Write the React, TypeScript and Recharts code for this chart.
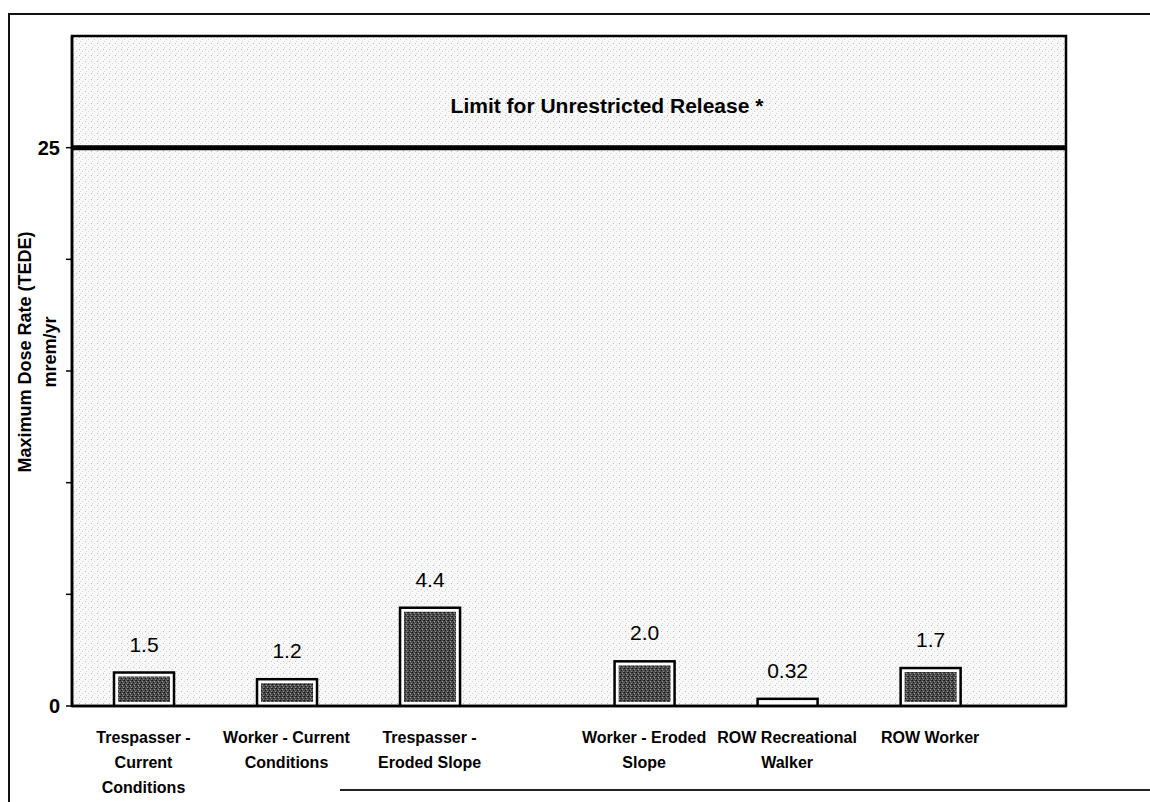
import React from "react";
import {
  BarChart,
  Bar,
  XAxis,
  YAxis,
  CartesianGrid,
  ReferenceLine,
  ReferenceArea,
  LabelList,
  Label,
} from "recharts";

const categories = [
  ["Trespasser -", "Current", "Conditions"],
  ["Worker - Current", "Conditions"],
  ["Trespasser -", "Eroded Slope"],
  ["Worker - Eroded", "Slope"],
  ["ROW Recreational", "Walker"],
  ["ROW Worker"],
];
const slots = [0.5, 1.5, 2.5, 4, 5, 6];
const doseValues = [1.5, 1.2, 4.4, 2.0, 0.32, 1.7];
const valueLabels = ["1.5", "1.2", "4.4", "2.0", "0.32", "1.7"];
const yTicks = [0, 5, 10, 15, 20, 25];
const yTickLabels: Record<number, string> = { 0: "0", 25: "25" };
const limitValue = 25;
const limitText = "Limit for Unrestricted Release *";

const data = slots.map((s, i) => ({
  slot: s,
  dose: doseValues[i],
  label: valueLabels[i],
}));

const FONT = "'Liberation Sans', Arial, sans-serif";

const CategoryTick = (props: any) => {
  const { x, y, payload } = props;
  const idx = slots.indexOf(payload.value);
  const lines = idx >= 0 ? categories[idx] : [];
  return (
    <text
      x={x}
      y={y}
      textAnchor="middle"
      fontFamily={FONT}
      fontWeight="bold"
      fontSize={16}
      fill="#000"
    >
      {lines.map((l, i) => (
        <tspan key={i} x={x} dy={i === 0 ? 29 : 25}>
          {l}
        </tspan>
      ))}
    </text>
  );
};

const BarShape = (props: any) => {
  const { x, y, width, height } = props;
  if (height == null || width == null) return null;
  const inset = 4;
  return (
    <g>
      <rect x={x} y={y} width={width} height={height} fill="#fff" stroke="#000" strokeWidth={2.5} />
      {height > inset * 2 && (
        <rect
          x={x + inset}
          y={y + inset}
          width={width - inset * 2}
          height={height - inset * 2}
          fill="url(#barStipple)"
        />
      )}
    </g>
  );
};

const LimitLabel = (props: any) => {
  const vb = props.viewBox || {};
  const cx = (vb.x || 0) + (vb.width || 0) / 2 + 38;
  const cy = (vb.y || 0) - 35;
  return (
    <text x={cx} y={cy} textAnchor="middle" fontFamily={FONT} fontWeight="bold" fontSize={21} fill="#000">
      {limitText}
    </text>
  );
};

const YTitle = (props: any) => {
  const vb = props.viewBox || {};
  const cy = (vb.y || 0) + (vb.height || 0) / 2 - 19;
  const x1 = 25;
  const x2 = 50;
  return (
    <g fontFamily={FONT} fontWeight="bold" fontSize={18} fill="#000">
      <text x={x1} y={cy} textAnchor="middle" dy="0.35em" transform={`rotate(-90 ${x1} ${cy})`}>
        Maximum Dose Rate (TEDE)
      </text>
      <text x={x2} y={cy} textAnchor="middle" dy="0.35em" transform={`rotate(-90 ${x2} ${cy})`}>
        mrem/yr
      </text>
    </g>
  );
};

export default function App() {
  return (
    <div style={{ position: "absolute", left: 0, top: 0, width: 1150, height: 802, background: "#fff", overflow: "hidden" }}>
      <div style={{ position: "absolute", left: 8, top: 13, width: 2, height: 789, background: "#111" }} />
      <div style={{ position: "absolute", left: 8, top: 13, width: 1142, height: 2, background: "#111" }} />
      <div style={{ position: "absolute", left: 340, top: 789, width: 810, height: 2, background: "#222" }} />
      <div style={{ position: "absolute", left: 0, top: 0 }}>
        <BarChart
          width={1150}
          height={802}
          data={data}
          margin={{ top: 36, right: 84, bottom: 6, left: 12 }}
        >
          <defs>
            <pattern id="barStipple" width="4" height="4" patternUnits="userSpaceOnUse">
              <rect width="4" height="4" fill="#4d4d4d" />
              <rect x="0" y="0" width="1" height="1" fill="#151515" />
              <rect x="2" y="1" width="1" height="1" fill="#9a9a9a" />
              <rect x="1" y="2" width="1" height="1" fill="#1e1e1e" />
              <rect x="3" y="3" width="1" height="1" fill="#888" />
              <rect x="3" y="0" width="1" height="1" fill="#2a2a2a" />
            </pattern>
            <pattern id="bgSpeckle" width="6" height="6" patternUnits="userSpaceOnUse">
              <rect width="6" height="6" fill="#f8f8f8" />
              <rect x="1" y="1" width="1" height="1" fill="#bdbdbd" />
              <rect x="4" y="3" width="1" height="1" fill="#d4d4d4" />
              <rect x="2" y="5" width="1" height="1" fill="#d8d8d8" />
            </pattern>
          </defs>
          <CartesianGrid horizontal={false} vertical={false} fill="url(#bgSpeckle)" />
          <XAxis
            type="number"
            dataKey="slot"
            domain={[0, 6.95]}
            ticks={slots}
            interval={0}
            tickLine={false}
            axisLine={{ stroke: "#000", strokeWidth: 2.5 }}
            tick={<CategoryTick />}
            height={90}
            allowDataOverflow
          />
          <YAxis
            type="number"
            domain={[0, 30]}
            ticks={yTicks}
            interval={0}
            width={60}
            tickSize={6}
            tickMargin={6}
            tickLine={{ stroke: "#000", strokeWidth: 1.5 }}
            axisLine={{ stroke: "#000", strokeWidth: 2.5 }}
            tickFormatter={(v: number) => yTickLabels[v] ?? ""}
            tick={{ fill: "#000", fontFamily: FONT, fontWeight: "bold", fontSize: 20 }}
            allowDataOverflow
          >
            <Label content={<YTitle />} />
          </YAxis>
          <ReferenceArea
            x1={0}
            x2={6.95}
            y1={0}
            y2={30}
            fill="none"
            fillOpacity={0}
            stroke="#000"
            strokeWidth={2.5}
            ifOverflow="visible"
          />
          <ReferenceLine y={limitValue} stroke="#000" strokeWidth={5} label={<LimitLabel />} />
          <Bar dataKey="dose" barSize={60} shape={<BarShape />} isAnimationActive={false}>
            <LabelList
              dataKey="label"
              position="top"
              offset={21}
              fill="#000"
              fontFamily={FONT}
              fontSize={21}
            />
          </Bar>
        </BarChart>
      </div>
    </div>
  );
}
